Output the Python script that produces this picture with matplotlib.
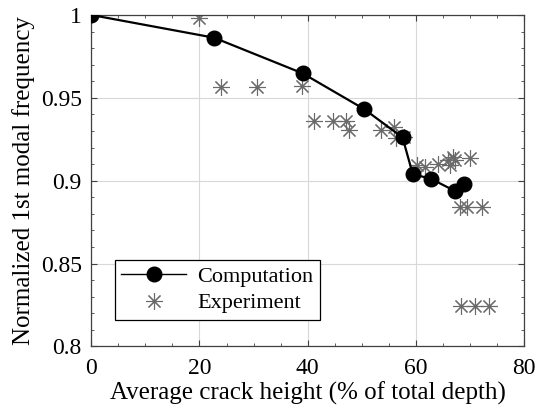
import matplotlib.pyplot as plt
from matplotlib.lines import Line2D
from matplotlib.ticker import MultipleLocator

# Computation (black line with dots)
comp_x = [0, 22.7, 39.1, 50.5, 57.6, 59.5, 62.8, 67.3, 69.0]
comp_y = [1.0, 0.9863, 0.9648, 0.9432, 0.9261, 0.9039, 0.9013, 0.8938, 0.8979]

# Experiment (asterisks)
exp_x = [19.9, 23.9, 30.7, 38.9, 41.2, 44.8, 47.1, 47.6, 53.7, 56.0, 56.4, 57.9,
         60.2, 61.8, 64.2, 66.1, 66.9, 67.3, 66.4, 70.1,
         68.2, 69.5, 72.4, 68.4, 71.1, 73.6]
exp_y = [0.998, 0.9567, 0.9567, 0.9571, 0.936, 0.936, 0.936, 0.9305, 0.9305, 0.9325, 0.9255, 0.9262,
         0.9094, 0.908, 0.9104, 0.9124, 0.9144, 0.9124, 0.9094, 0.914,
         0.8842, 0.8842, 0.8842, 0.8243, 0.8243, 0.8243]

plt.rcParams['font.family'] = ['Liberation Serif', 'DejaVu Serif']

fig = plt.figure(figsize=(5.36, 4.12), dpi=100)
ax = fig.add_axes([0.1707, 0.159, 0.806, 0.8046])

ast = (8, 2, 0)
ax.plot(exp_x, exp_y, linestyle='none', marker=ast, markersize=12,
        markeredgewidth=0.8, color='#6a6a6a', zorder=2)
ax.plot(comp_x, comp_y, color='black', linewidth=1.6, marker='o',
        markersize=10.5, zorder=3)

ax.set_xlim(0, 80)
ax.set_ylim(0.8, 1.0)
ax.xaxis.set_major_locator(MultipleLocator(20))
ax.xaxis.set_minor_locator(MultipleLocator(5))
ax.yaxis.set_major_locator(MultipleLocator(0.05))
ax.yaxis.set_minor_locator(MultipleLocator(0.01))
ax.set_yticks([0.8, 0.85, 0.9, 0.95, 1.0])
ax.set_yticklabels(['0.8', '0.85', '0.9', '0.95', '1'])
ax.tick_params(which='both', direction='in', top=True, right=True,
               labelsize=17, color='#404040')
ax.tick_params(axis='x', which='major', length=4, pad=8)
ax.tick_params(axis='y', which='major', length=4, pad=7)
ax.tick_params(which='minor', length=2.5)
ax.grid(True, which='major', color='#d8d8d8', linewidth=0.8)
ax.set_axisbelow(True)
for s in ax.spines.values():
    s.set_color('#404040')
    s.set_linewidth(0.9)

ax.set_xlabel('Average crack height (% of total depth)', fontsize=18, labelpad=2)
ax.set_ylabel('Normalized 1st modal frequency', fontsize=18, labelpad=4)

handles = [
    Line2D([], [], color='black', linewidth=1.0, marker='o', markersize=10.5),
    Line2D([], [], linestyle='none', marker=ast, markersize=12,
           markeredgewidth=0.8, color='#6a6a6a'),
]
leg = ax.legend(handles, ['Computation', 'Experiment'], loc='lower left',
                bbox_to_anchor=(0.054, 0.08), borderaxespad=0, fontsize=16,
                fancybox=False, framealpha=1, edgecolor='black',
                handlelength=2.9, handletextpad=0.5, labelspacing=0.25,
                borderpad=0.3)
leg.get_frame().set_linewidth(0.9)

fig.savefig('out.png', dpi=100)
